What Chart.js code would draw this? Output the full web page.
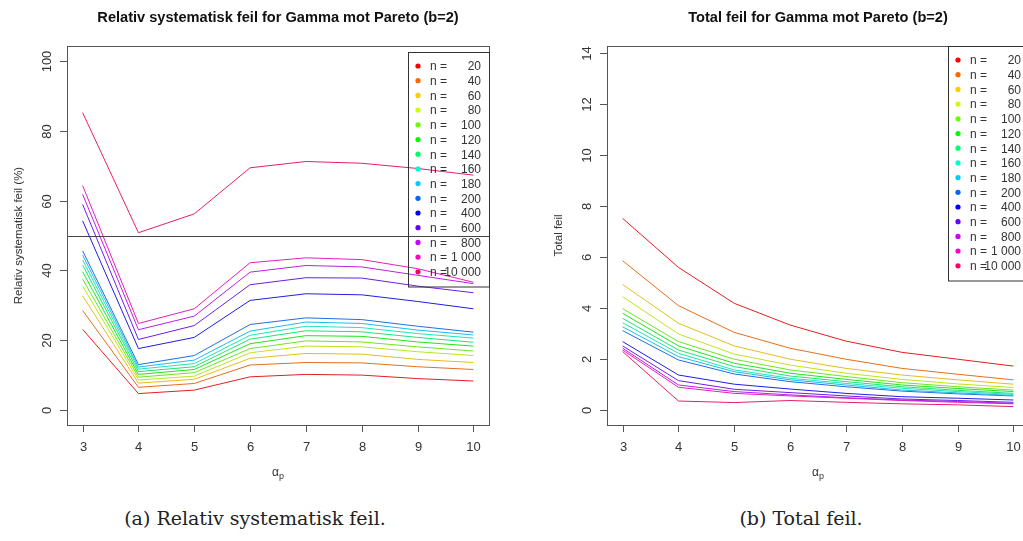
<!DOCTYPE html>
<html>
<head>
<meta charset="utf-8">
<script src="https://cdn.jsdelivr.net/npm/chart.js@4.4.1/dist/chart.umd.min.js"></script>
<style>
  html, body { margin: 0; padding: 0; background: #fff; }
  #wrap { position: relative; width: 1023px; height: 541px; overflow: hidden; background: #fff; }
  canvas { position: absolute; top: 0; }
  #leftChart { left: 0; }
  #rightChart { left: 520px; }
  .caption {
    position: absolute; top: 507px; transform: translateX(-50%);
    font-family: "DejaVu Serif", "Liberation Serif", serif; font-size: 19px;
    color: #222; white-space: nowrap;
  }
</style>
</head>
<body>
<div id="wrap">
  <canvas id="leftChart" width="520" height="490"></canvas>
  <canvas id="rightChart" width="540" height="490"></canvas>
  <div class="caption" style="left:255px">(a) Relativ systematisk feil.</div>
  <div class="caption" style="left:801px">(b) Total feil.</div>
</div>
<script>
// alpha_p-verdier og utvalgsstørrelser
const alphaP = [3, 4, 5, 6, 7, 8, 9, 10];
const sampleSizes = [20, 40, 60, 80, 100, 120, 140, 160, 180, 200, 400, 600, 800, 1000, 10000];

// rainbow(15)
const nColors = [
  "#FF0000", "#FF6600", "#FFCC00", "#CCFF00", "#66FF00",
  "#00FF00", "#00FF66", "#00FFCC", "#00CCFF", "#0066FF",
  "#0000FF", "#6600FF", "#CC00FF", "#FF00CC", "#FF0066",
];

// Relativ systematisk feil (%)
const rel20 = [23.1, 4.7, 5.7, 9.5, 10.2, 10.0, 9.0, 8.3];
const rel40 = [28.5, 6.5, 7.6, 12.9, 13.6, 13.5, 12.4, 11.6];
const rel60 = [32.7, 7.7, 8.8, 14.8, 16.2, 16.0, 14.5, 13.6];
const rel80 = [35.5, 8.6, 9.7, 16.4, 18.3, 18.1, 16.7, 15.6];
const rel100 = [37.5, 9.4, 10.7, 17.6, 19.8, 19.5, 18.1, 16.9];
const rel120 = [39.6, 10.2, 11.6, 19.0, 21.3, 21.1, 19.5, 18.3];
const rel140 = [41.5, 11.0, 12.4, 20.3, 22.7, 22.4, 20.8, 19.4];
const rel160 = [43.0, 11.7, 13.3, 21.4, 24.0, 23.6, 21.9, 20.6];
const rel180 = [44.4, 12.3, 14.3, 22.6, 25.2, 24.8, 22.9, 21.5];
const rel200 = [45.6, 13.0, 15.6, 24.5, 26.4, 25.9, 24.0, 22.3];
const rel400 = [54.2, 17.6, 20.8, 31.4, 33.3, 33.0, 31.1, 29.0];
const rel600 = [58.9, 20.2, 24.2, 35.9, 37.9, 37.8, 35.5, 33.6];
const rel800 = [61.8, 23.0, 26.9, 39.5, 41.4, 41.0, 38.6, 36.2];
const rel1000 = [64.3, 24.8, 29.0, 42.2, 43.6, 43.1, 40.5, 36.6];
const rel10000 = [85.2, 50.8, 56.2, 69.4, 71.2, 70.7, 69.2, 67.3];

// Total feil
const tot20 = [7.51, 5.59, 4.18, 3.33, 2.70, 2.26, 1.99, 1.72];
const tot40 = [5.85, 4.09, 3.04, 2.42, 1.99, 1.63, 1.40, 1.18];
const tot60 = [4.92, 3.40, 2.51, 1.99, 1.63, 1.37, 1.18, 1.01];
const tot80 = [4.44, 2.98, 2.19, 1.76, 1.44, 1.20, 1.02, 0.88];
const tot100 = [3.97, 2.68, 1.99, 1.57, 1.31, 1.07, 0.91, 0.78];
const tot120 = [3.79, 2.51, 1.83, 1.44, 1.20, 0.98, 0.84, 0.72];
const tot140 = [3.59, 2.35, 1.70, 1.33, 1.11, 0.91, 0.77, 0.65];
const tot160 = [3.42, 2.22, 1.57, 1.24, 1.04, 0.85, 0.72, 0.61];
const tot180 = [3.26, 2.09, 1.50, 1.18, 0.98, 0.78, 0.67, 0.57];
const tot200 = [3.11, 1.96, 1.41, 1.11, 0.91, 0.74, 0.63, 0.55];
const tot400 = [2.68, 1.37, 1.01, 0.82, 0.65, 0.52, 0.46, 0.39];
const tot600 = [2.51, 1.15, 0.81, 0.68, 0.55, 0.43, 0.37, 0.30];
const tot800 = [2.42, 0.98, 0.72, 0.59, 0.48, 0.39, 0.33, 0.26];
const tot1000 = [2.35, 0.89, 0.65, 0.55, 0.46, 0.37, 0.30, 0.24];
const tot10000 = [2.29, 0.35, 0.29, 0.37, 0.30, 0.24, 0.20, 0.13];

// Akseinndeling
const xTicks = [3, 4, 5, 6, 7, 8, 9, 10];
const relTicks = [0, 20, 40, 60, 80, 100];
const totTicks = [0, 2, 4, 6, 8, 10, 12, 14];
const relRefLine = 50;

const relSeries = [rel20, rel40, rel60, rel80, rel100, rel120, rel140, rel160,
  rel180, rel200, rel400, rel600, rel800, rel1000, rel10000];
const totSeries = [tot20, tot40, tot60, tot80, tot100, tot120, tot140, tot160,
  tot180, tot200, tot400, tot600, tot800, tot1000, tot10000];

const sansFont = '"Liberation Sans", Arial, sans-serif';

// "n =   20", "n =  1 000", "n =10 000"
function sizeLabel(n) {
  return String(n).replace(/\B(?=(\d{3})+(?!\d))/g, " ");
}

// linjene er litt mattere enn forklaringsprikkene
function mute(hex) {
  const v = [1, 3, 5].map((k) => parseInt(hex.slice(k, k + 2), 16));
  const m = v.map((c) => Math.round(c * 0.78 + 30));
  return "rgb(" + m.join(",") + ")";
}

// Akser, ramme, titler og forklaring tegnes i R-stil
const basePlotPlugin = {
  id: "basePlot",
  afterDraw(chart) {
    const o = chart.options.plugins.basePlot;
    const ctx = chart.ctx;
    const { left, top, right, bottom } = chart.chartArea;
    const xs = chart.scales.x;
    const ys = chart.scales.y;
    ctx.save();

    // referanselinje
    if (o.refLine !== null) {
      const py = Math.round(ys.getPixelForValue(o.refLine)) + 0.5;
      ctx.strokeStyle = "#444";
      ctx.lineWidth = 1;
      ctx.beginPath();
      ctx.moveTo(left, py);
      ctx.lineTo(right, py);
      ctx.stroke();
    }

    // ramme
    ctx.strokeStyle = "#555";
    ctx.lineWidth = 1;
    ctx.strokeRect(left + 0.5, top + 0.5, right - left, bottom - top);

    // x-akse
    ctx.fillStyle = "#333";
    ctx.font = "13px " + sansFont;
    ctx.textAlign = "center";
    ctx.textBaseline = "middle";
    o.xTicks.forEach((v) => {
      const px = Math.round(xs.getPixelForValue(v)) + 0.5;
      ctx.beginPath();
      ctx.moveTo(px, bottom);
      ctx.lineTo(px, bottom + 7);
      ctx.stroke();
      ctx.fillText(String(v), px, bottom + 22);
    });

    // y-akse
    o.yTicks.forEach((v) => {
      const py = Math.round(ys.getPixelForValue(v)) + 0.5;
      ctx.beginPath();
      ctx.moveTo(left - 7, py);
      ctx.lineTo(left, py);
      ctx.stroke();
      ctx.save();
      ctx.translate(left - 20, py);
      ctx.rotate(-Math.PI / 2);
      ctx.fillText(String(v), 0, 0);
      ctx.restore();
    });

    // aksetitler
    ctx.font = "11.5px " + sansFont;
    ctx.save();
    ctx.translate(left - 48, (top + bottom) / 2);
    ctx.rotate(-Math.PI / 2);
    ctx.fillText(o.yTitle, 0, 0);
    ctx.restore();

    const cx = (left + right) / 2;
    ctx.font = "12px " + sansFont;
    ctx.textAlign = "right";
    ctx.fillText("\u03b1", cx + 1, bottom + 48);
    ctx.font = "9px " + sansFont;
    ctx.textAlign = "left";
    ctx.fillText("p", cx + 1, bottom + 52);

    // tittel
    ctx.fillStyle = "#111";
    ctx.textAlign = "center";
    ctx.font = "bold 14.6px " + sansFont;
    ctx.fillText(o.title, cx, 18);

    // forklaring
    const lx = right - 81;
    const ly = top + o.legendOffset;
    const rowH = 14.7;
    ctx.strokeStyle = "#333";
    ctx.strokeRect(lx + 0.5, ly + 0.5, 81, rowH * chart.data.datasets.length + 14);
    ctx.font = "12px " + sansFont;
    chart.data.datasets.forEach((ds, i) => {
      const ry = ly + 14 + i * rowH;
      ctx.fillStyle = ds.legendColor;
      ctx.beginPath();
      ctx.arc(lx + 10, ry, 2.6, 0, Math.PI * 2);
      ctx.fill();
      ctx.fillStyle = "#333";
      ctx.textAlign = "left";
      ctx.fillText("n =", lx + 22, ry + 1);
      ctx.textAlign = "right";
      ctx.fillText(sizeLabel(ds.label), lx + 73, ry + 1);
    });

    ctx.restore();
  },
};

function makeChart(canvasId, series, yMin, yMax, settings) {
  const datasets = series.map((vals, i) => ({
    label: sampleSizes[i],
    data: alphaP.map((a, j) => ({ x: a, y: vals[j] })),
    borderColor: mute(nColors[i]),
    legendColor: nColors[i],
    borderWidth: 1,
    pointRadius: 0,
    tension: 0,
    fill: false,
  }));

  return new Chart(document.getElementById(canvasId), {
    type: "line",
    data: { datasets: datasets },
    options: {
      responsive: false,
      animation: false,
      layout: { padding: settings.padding },
      scales: {
        x: { type: "linear", min: 2.72, max: 10.28, display: false },
        y: { type: "linear", min: yMin, max: yMax, display: false },
      },
      plugins: {
        legend: { display: false },
        tooltip: { enabled: false },
        basePlot: settings,
      },
    },
    plugins: [basePlotPlugin],
  });
}

makeChart("leftChart", relSeries, -4.3, 104.3, {
  padding: { left: 67, top: 46, right: 31, bottom: 65 },
  title: "Relativ systematisk feil for Gamma mot Pareto (b=2)",
  yTitle: "Relativ systematisk feil (%)",
  xTicks: xTicks,
  yTicks: relTicks,
  refLine: relRefLine,
  legendOffset: 6,
});

makeChart("rightChart", totSeries, -0.59, 14.27, {
  padding: { left: 87, top: 46, right: 31, bottom: 65 },
  title: "Total feil for Gamma mot Pareto (b=2)",
  yTitle: "Total feil",
  xTicks: xTicks,
  yTicks: totTicks,
  refLine: null,
  legendOffset: 0,
});
</script>
</body>
</html>
